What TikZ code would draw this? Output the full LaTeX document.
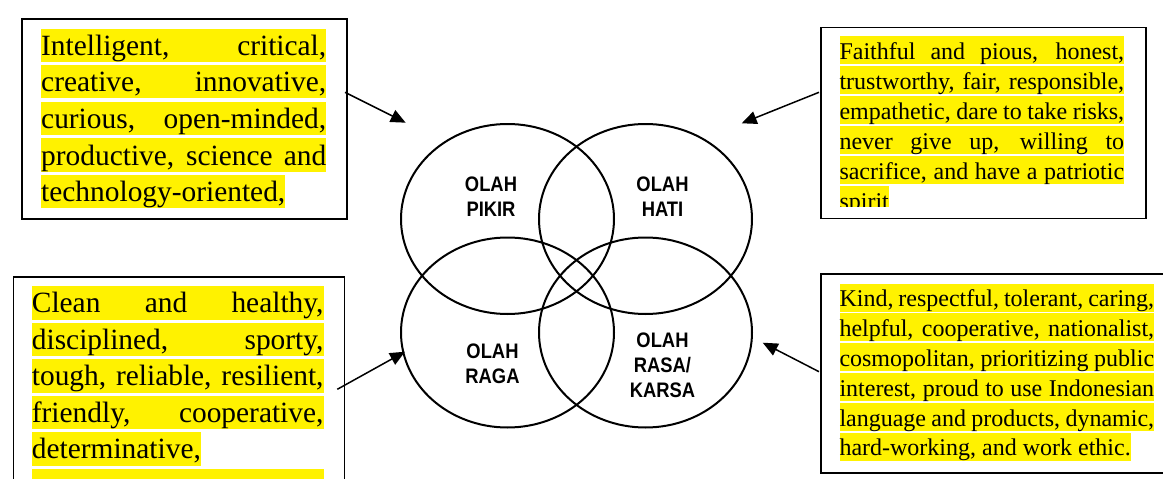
\documentclass[tikz,border=0pt]{standalone}
\usepackage{fontspec}
\setmainfont{Liberation Serif}
\newfontfamily\labelfont[FakeStretch=0.875]{Liberation Sans}
\usetikzlibrary{shapes.geometric,arrows.meta}
\tikzset{
  venn/.style={ellipse, draw, line width=2pt, minimum width=213pt, minimum height=190pt, inner sep=0pt},
  lbl/.style={font=\labelfont\bfseries\fontsize{21}{25}\selectfont, align=center, inner sep=0pt, anchor=north},
  card/.style={draw, line width=1.8pt, anchor=north west, inner sep=0pt},
  bigline/.style={fill=yellow, inner sep=0pt, anchor=north west, text height=26.7pt, text depth=6.6pt, font=\fontsize{29.4}{36.6}\selectfont},
  smallline/.style={fill=yellow, inner sep=0pt, anchor=north west, text height=23.3pt, text depth=4.7pt, font=\fontsize{24}{30}\selectfont},
  conn/.style={line width=1.5pt, -{Triangle[length=15pt,width=13pt]}}
}
\newcommand{\jl}[2]{\makebox[#1][s]{#2}}
\begin{document}
\begin{tikzpicture}[x=1pt,y=-1pt]
\fill[white] (0,0) rectangle (1163,479);
\useasboundingbox (0,0) rectangle (1163,479);
\clip (0,0) rectangle (1163,479);

% boxes
\node[card, minimum width=325pt, minimum height=200pt] (box1) at (21,18) {};
\node[card, minimum width=325pt, minimum height=191pt] (box2) at (820,26.5) {};
\node[card, minimum width=331pt, minimum height=230pt] (box3) at (12.5,276) {};
\node[card, minimum width=360pt, minimum height=199pt] (box4) at (820,273) {};

% box 1 text
\node[bigline] (t11) at (41,28.3) {\jl{285pt}{Intelligent, critical,}};
\node[bigline] (t12) at (41,64.9) {\jl{285pt}{creative, innovative,}};
\node[bigline] (t13) at (41,101.5) {\jl{285pt}{curious, open-minded,}};
\node[bigline] (t14) at (41,138.1) {\jl{285pt}{productive, science and}};
\node[bigline] (t15) at (41,174.7) {technology-oriented,};

% box 2 text
\node[smallline] (t21) at (839.3,36) {\jl{284.7pt}{Faithful and pious, honest,}};
\node[smallline] (t22) at (839.3,66) {\jl{284.7pt}{trustworthy, fair, responsible,}};
\node[smallline] (t23) at (839.3,96) {\jl{284.7pt}{empathetic, dare to take risks,}};
\node[smallline] (t24) at (839.3,126) {\jl{284.7pt}{never give up, willing to}};
\node[smallline] (t25) at (839.3,156) {\jl{284.7pt}{sacrifice, and have a patriotic}};
\begin{scope}
\clip (819,180) rectangle (1145,206);
\node[smallline] (t26) at (839.3,186) {spirit};
\end{scope}

% box 3 text
\node[bigline] (t31) at (31.7,286) {\jl{291.6pt}{Clean and healthy,}};
\node[bigline] (t32) at (31.7,322.5) {\jl{291.6pt}{disciplined, sporty,}};
\node[bigline] (t33) at (31.7,359) {\jl{291.6pt}{tough, reliable, resilient,}};
\node[bigline] (t34) at (31.7,395.5) {\jl{291.6pt}{friendly, cooperative,}};
\node[bigline] (t35) at (31.7,432) {determinative,};
\node[bigline] (t36) at (31.7,468.5) {\makebox[291.6pt]{}};

% box 4 text
\node[smallline] (t41) at (839.3,283.3) {\jl{314.7pt}{Kind, respectful, tolerant, caring,}};
\node[smallline] (t42) at (839.3,313.1) {\jl{314.7pt}{helpful, cooperative, nationalist,}};
\node[smallline] (t43) at (839.3,342.9) {\jl{314.7pt}{cosmopolitan, prioritizing public}};
\node[smallline] (t44) at (839.3,372.7) {\jl{314.7pt}{interest, proud to use Indonesian}};
\node[smallline] (t45) at (839.3,402.5) {\jl{314.7pt}{language and products, dynamic,}};
\node[smallline] (t46) at (839.3,432.3) {hard-working, and work ethic.};

% venn ellipses
\node[venn] (pikir) at (507.5,219) {};
\node[venn] (hati) at (645.5,219) {};
\node[venn] (raga) at (507.5,332.5) {};
\node[venn] (rasa) at (645.5,332.5) {};

% labels
\node[lbl] (lpikir) at (491,176.7) {OLAH\\PIKIR};
\node[lbl] (lhati) at (662.5,176.7) {OLAH\\HATI};
\node[lbl] (lraga) at (492.5,343.3) {OLAH\\RAGA};
\node[lbl] (lrasa) at (662.5,332.7) {OLAH\\RASA/\\KARSA};

% connectors
\coordinate (a1s) at (345,92.3);
\coordinate (a1e) at (405.7,122.7);
\coordinate (a2s) at (819,92.3);
\coordinate (a2e) at (741.7,123.3);
\coordinate (a3s) at (337.3,389.3);
\coordinate (a3e) at (405,351.7);
\coordinate (a4s) at (819,371.7);
\coordinate (a4e) at (762.7,342.7);
\draw[conn] (a1s) -- (a1e);
\draw[conn] (a2s) -- (a2e);
\draw[conn] (a3s) -- (a3e);
\draw[conn] (a4s) -- (a4e);
\end{tikzpicture}
\end{document}
